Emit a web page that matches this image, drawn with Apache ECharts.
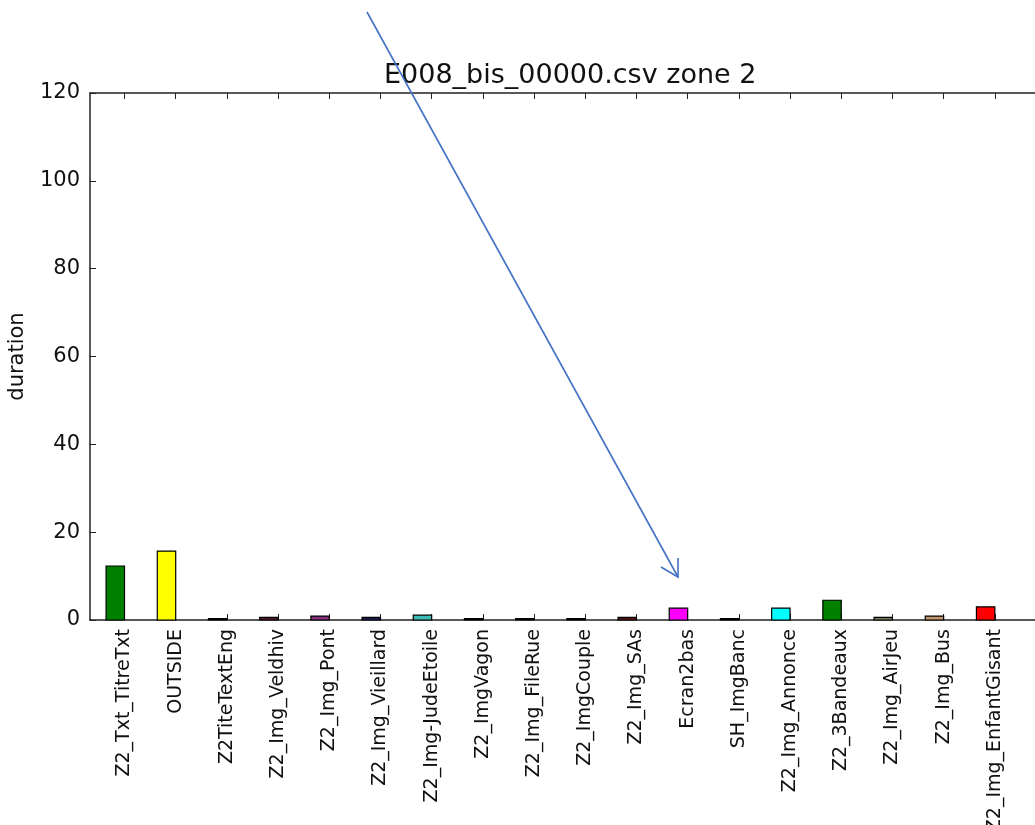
<!DOCTYPE html>
<html>
<head>
<meta charset="utf-8">
<script src="https://cdn.jsdelivr.net/npm/echarts@6/dist/echarts.min.js"></script>
<style>
html,body{margin:0;padding:0;background:#fff;}
#chart{width:1035px;height:825px;}
</style>
</head>
<body>
<div id="chart"></div>
<script>
const categories = ["Z2_Txt_TitreTxt","OUTSIDE","Z2TiteTextEng","Z2_Img_Veldhiv","Z2_Img_Pont","Z2_Img_Vieillard","Z2_Img-JudeEtoile","Z2_ImgVagon","Z2_Img_FileRue","Z2_ImgCouple","Z2_Img_SAs","Ecran2bas","SH_ImgBanc","Z2_Img_Annonce","Z2_3Bandeaux","Z2_Img_AirJeu","Z2_Img_Bus","Z2_Img_EnfantGisant"];
const durations = [12.3,15.7,0.3,0.6,0.9,0.6,1.1,0.3,0.3,0.3,0.6,2.7,0.3,2.7,4.5,0.6,0.9,3.0];
const barColors = ["#008000","#ffff00","#000000","#551a2e","#82307f","#1c1c5c","#3cbcb4","#101028","#101010","#101010","#5a1414","#ff00ff","#000000","#00ffff","#008000","#7e7c5c","#c4956a","#ff0000"];
const yTicks = [0,20,40,60,80,100,120];
const titleText = "E008_bis_00000.csv zone 2";
const yName = "duration";

const chart = echarts.init(document.getElementById('chart'), null, {renderer:'canvas'});
const tickVals = categories.map((c,i)=>i);
const data = categories.map((c,i)=>[i, durations[i]]);
const axisColor = '#222';
const font = 'DejaVu Sans';

chart.setOption({
  animation:false,
  backgroundColor:'#fff',
  title:{
    text:titleText, left:379, top:57,
    textStyle:{fontFamily:font,fontSize:27,fontWeight:'normal',color:'#111'}
  },
  grid:{left:90, top:93, width:954, height:527, containLabel:false, outerBoundsMode:'none'},
  xAxis:[{
    type:'value', min:-0.674, max:17.96, position:'bottom',
    splitLine:{show:false},
    axisLine:{show:true, onZero:false, lineStyle:{color:axisColor,width:1.5}},
    axisTick:{show:true, inside:true, length:6, customValues:tickVals, lineStyle:{color:axisColor,width:1}},
    axisLabel:{show:true, customValues:tickVals, rotate:90, margin:9,
      fontFamily:font, fontSize:19, color:'#111',
      formatter:(v)=>categories[Math.round(v)]}
  },{
    type:'value', min:-0.674, max:17.96, position:'top',
    splitLine:{show:false},
    axisLine:{show:true, onZero:false, lineStyle:{color:axisColor,width:1.5}},
    axisTick:{show:true, inside:true, length:6, customValues:tickVals, lineStyle:{color:axisColor,width:1}},
    axisLabel:{show:false}
  }],
  yAxis:{
    type:'value', min:0, max:120, interval:20,
    name:yName, nameLocation:'middle', nameRotate:90, nameGap:62,
    nameTextStyle:{fontFamily:font,fontSize:21,color:'#111'},
    splitLine:{show:false},
    axisLine:{show:true, onZero:false, lineStyle:{color:axisColor,width:1.5}},
    axisTick:{show:true, inside:true, length:6, lineStyle:{color:axisColor,width:1}},
    axisLabel:{margin:10, fontFamily:font, fontSize:21, color:'#111',
      formatter:(v)=>yTicks.includes(v)?String(v):''}
  },
  series:[{
    type:'custom',
    xAxisIndex:0,
    data:data,
    encode:{x:0,y:1},
    renderItem:function(params, api){
      const x = api.value(0), y = api.value(1);
      const top = api.coord([x, y]);
      const base = api.coord([x, 0]);
      const w = api.size([0.36, 0])[0];
      return {
        type:'rect',
        shape:{x:top[0]-w, y:top[1], width:w, height:base[1]-top[1]},
        style:{fill:barColors[params.dataIndex], stroke:'#000', lineWidth:1.2}
      };
    }
  }],
  graphic:[
    {type:'line', z:100, shape:{x1:367,y1:12,x2:678,y2:577},
      style:{stroke:'#4472c4', lineWidth:1.6}},
    {type:'polyline', z:100, shape:{points:[[661,567],[678,577],[678,558]]},
      style:{stroke:'#4472c4', lineWidth:1.6, fill:null}}
  ]
});
</script>
</body>
</html>
